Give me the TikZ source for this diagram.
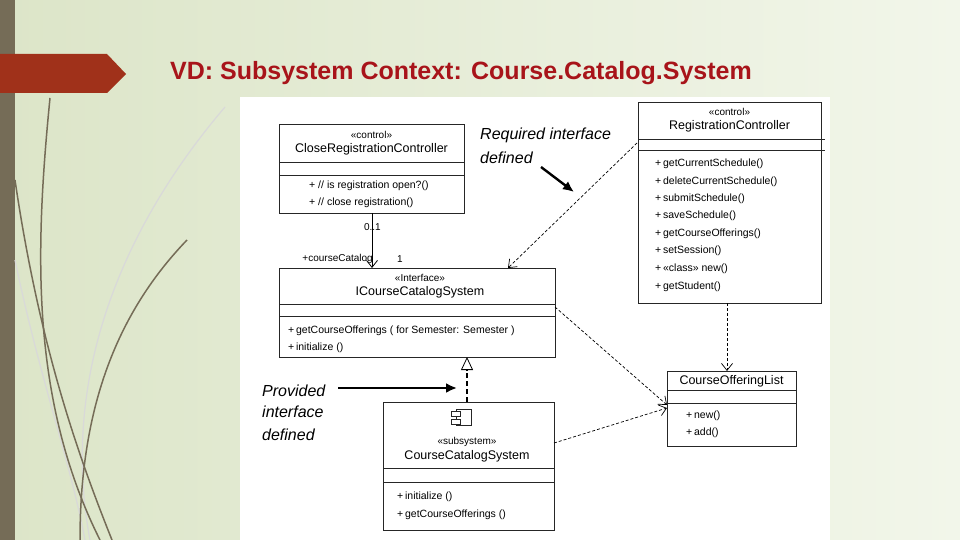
\documentclass[tikz,border=0pt]{standalone}
\usepackage{fontspec}
\setmainfont{Liberation Sans}
\usetikzlibrary{arrows.meta}
\definecolor{bgA}{HTML}{DCE5C8}
\definecolor{bgB}{HTML}{F2F6EA}
\definecolor{barc}{HTML}{756C57}
\definecolor{redc}{HTML}{A0311A}
\definecolor{titc}{HTML}{A8141A}
\newcommand{\stL}{\textless\textless}
\newcommand{\stR}{\textgreater\textgreater}
\begin{document}
\begin{tikzpicture}[x=1pt,y=-1pt,
  box/.style={draw=black!85,fill=white,line width=0.9pt},
  t/.style={inner sep=0pt,anchor=center,font=\fontsize{12.5}{13}\selectfont},
  st/.style={inner sep=0pt,anchor=center,font=\fontsize{10}{11}\selectfont},
  m/.style={inner sep=0pt,anchor=west,font=\fontsize{10.5}{11}\selectfont},
  dep/.style={densely dashed,line width=0.7pt,-{Straight Barb[length=7pt,width=11pt]}},
  note/.style={inner sep=0pt,anchor=west,font=\fontsize{16}{17}\selectfont\itshape},
  bigarr/.style={line width=2.4pt,-{Latex[length=11pt,width=10pt]}},
  grass/.style={barc,line width=1.5pt},
  grassl/.style={black!15,line width=1.2pt}]
\useasboundingbox (0,0) rectangle (960,540);
\shade[left color=bgA,right color=bgB] (0,0) rectangle (960,540);
\fill[barc] (0,0) rectangle (15,540);
% grass
\draw[grassl] (225,107) .. controls (120,230) and (60,380) .. (90,540);
\draw[grassl] (15,260) .. controls (40,380) and (70,460) .. (85,540);
\draw[grass] (50,98) .. controls (35,250) and (30,400) .. (100,540);
\draw[grass] (15,180) .. controls (40,350) and (80,460) .. (112,540);
\draw[grass] (187,240) .. controls (110,320) and (80,420) .. (80,540);
\fill[redc] (0,54) -- (107,54) -- (126,74) -- (107,93) -- (0,93) -- cycle;
\node[inner sep=0pt,anchor=west,text=titc,font=\fontsize{25}{28}\selectfont\bfseries] (title) at (170,73) {VD: Subsystem Context: Course.Catalog.System};
\fill[white] (240,97) rectangle (830,540);
% CloseRegistrationController
\node[box,minimum width=185pt,minimum height=89pt,anchor=north west,inner sep=0pt] (crc) at (279,124) {};
\draw[black!85,line width=0.8pt] (279,162) -- (464,162) (279,175) -- (464,175);
\node[st] (crcs) at (371.5,135) {\stL control\stR};
\node[t] (crcn) at (371.5,149) {CloseRegistrationController};
\node[m] (crc1) at (309,186) {+ // is registration open?()};
\node[m] (crc2) at (309,203) {+ // close registration()};
% RegistrationController
\node[box,minimum width=183pt,minimum height=201pt,anchor=north west,inner sep=0pt] (rc) at (638,102) {};
\draw[black!85,line width=0.8pt] (638,139) -- (825,139) (638,150) -- (825,150);
\node[st] (rcs) at (729.5,112) {\stL control\stR};
\node[t] (rcn) at (729.5,126) {RegistrationController};
\foreach \y/\s [count=\i] in {164/getCurrentSchedule(),182/deleteCurrentSchedule(),199/submitSchedule(),216/saveSchedule(),234/getCourseOfferings(),251/setSession(),269/{\stL class\stR{} new()},287/getStudent()}
  \node[m] (rcm\i) at (655,\y) {+\,\s};
% ICourseCatalogSystem
\node[box,minimum width=276pt,minimum height=89pt,anchor=north west,inner sep=0pt] (iccs) at (279,268) {};
\draw[black!85,line width=0.8pt] (279,304) -- (555,304) (279,316) -- (555,316);
\node[st] (iccss) at (420,278) {\stL Interface\stR};
\node[t] (iccsn) at (420,292) {ICourseCatalogSystem};
\node[m] (iccs1) at (288,331) {+\,getCourseOfferings ( for Semester: Semester )};
\node[m] (iccs2) at (288,348) {+\,initialize ()};
% CourseCatalogSystem
\node[box,minimum width=171pt,minimum height=128pt,anchor=north west,inner sep=0pt] (ccs) at (383,402) {};
\draw[black!85,line width=0.8pt] (383,468) -- (554,468) (383,482) -- (554,482);
\draw[black!85,line width=0.8pt] (456,409) rectangle (471,425);
\draw[black!85,fill=white,line width=0.8pt] (451,411) rectangle (460,416) (451,419) rectangle (460,424);
\node[st] (ccss) at (467,442) {\stL subsystem\stR};
\node[t] (ccsn) at (467,456) {CourseCatalogSystem};
\node[m] (ccs1) at (397,497) {+\,initialize ()};
\node[m] (ccs2) at (397,515) {+\,getCourseOfferings ()};
% CourseOfferingList
\node[box,minimum width=129pt,minimum height=75pt,anchor=north west,inner sep=0pt] (col) at (667,371) {};
\draw[black!85,line width=0.8pt] (667,390) -- (796,390) (667,403) -- (796,403);
\node[t] (coln) at (731.5,381) {CourseOfferingList};
\node[m] (col1) at (686,416) {+\,new()};
\node[m] (col2) at (686,433) {+\,add()};
% connectors
\coordinate (a1) at (372,213); \coordinate (a2) at (372,268);
\draw[line width=0.8pt,-{Straight Barb[length=7pt,width=11pt]}] (a1) -- (a2);
\node[st,anchor=east] (l01) at (381,227) {0..1};
\node[st,anchor=east] (lcc) at (373,259) {+courseCatalog};
\node[st,anchor=west] (l1) at (397,259) {1};
\coordinate (b1) at (637,143); \coordinate (b2) at (508,268);
\draw[dep] (b1) -- (b2);
\coordinate (c1) at (555,307); \coordinate (c2) at (667,405);
\draw[dep] (c1) -- (c2);
\coordinate (d1) at (554,443); \coordinate (d2) at (667,408);
\draw[dep] (d1) -- (d2);
\coordinate (e1) at (727,303); \coordinate (e2) at (727,371);
\draw[dep] (e1) -- (e2);
\coordinate (f1) at (467,402); \coordinate (f2) at (467,357);
\draw[line width=1.4pt,dash pattern=on 5pt off 3pt,-{Triangle[open,length=13pt,width=12pt,line width=0.8pt]}] (f1) -- (f2);
% notes
\node[note] (req1) at (480,135) {Required interface};
\node[note] (req2) at (480,158) {defined};
\coordinate (g1) at (541,167); \coordinate (g2) at (574,192);
\draw[bigarr] (g1) -- (g2);
\node[note] (pro1) at (262,391) {Provided};
\node[note] (pro2) at (262,412) {interface};
\node[note] (pro3) at (262,435) {defined};
\coordinate (h1) at (338,388); \coordinate (h2) at (457,388);
\draw[bigarr] (h1) -- (h2);
\end{tikzpicture}
\end{document}
